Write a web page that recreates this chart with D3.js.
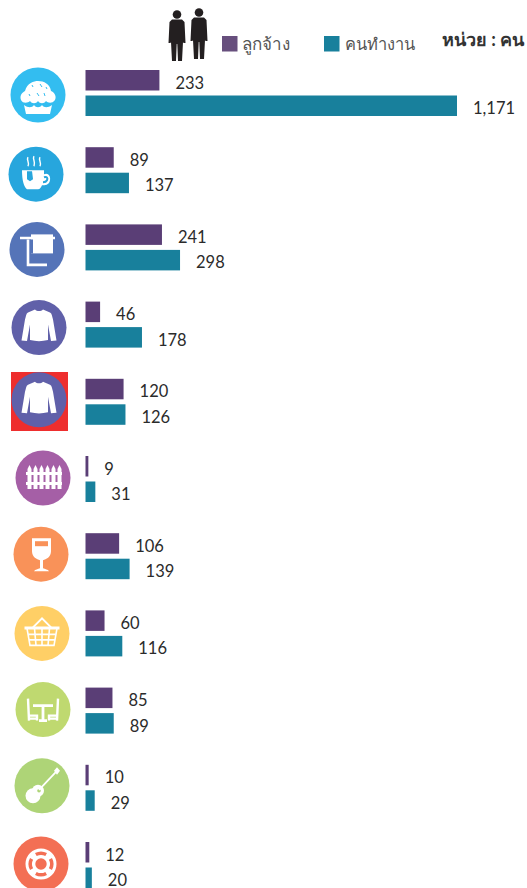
<!DOCTYPE html>
<html>
<head>
<meta charset="utf-8">
<script src="https://cdn.jsdelivr.net/npm/d3@7"></script>
<style>
html, body { margin: 0; padding: 0; background: #fff; overflow: hidden; }
#chart { width: 527px; height: 888px; }
text { font-family: Lato, "Noto Sans", "DejaVu Sans", sans-serif; }
</style>
</head>
<body>
<div id="chart"></div>
<script>
//Datos
const categories = ['pie','cup','towel','shirt','shirt','fence','wine','basket','table','guitar','buoy'];
const employees = [233, 89, 241, 46, 120, 9, 106, 60, 85, 10, 12];
const workers = [1171, 137, 298, 178, 126, 31, 139, 116, 89, 29, 20];
const legendLabels = ['ลูกจ้าง', 'คนทำงาน'];
const unitLabel = 'หน่วย : คน';

//Colores fijos
const COLOR_EMPLOYEE = '#5a3e76',
COLOR_WORKER = '#18809c',
COLOR_EMPLOYEE_KEY = '#674f7d',
COLOR_LABEL = '#2b2b2b';

const iconColors = ['#33bdf0','#27a6dd','#5574b8','#6060a9','#6060a9','#a55fa6','#f99259','#ffcf66','#bfd970','#aed477','#f36f54'];
const iconX = [38,36,37,39,39,43,41,42,43,42,41];
const iconDy = [25,27,25,26,21,22,21,23,22,21,22];

const width = 527, height = 888;
const BAR_H = 20.5, BAR_GAP = 25.5, ICON_R = 27.5;

let svg = d3.select('#chart').append('svg')
    .attr('width', width)
    .attr('height', height);

let x = d3.scaleLinear().domain([0, 1171]).range([85.5, 457]);
let y = d3.scaleLinear().domain([0, 10]).range([70, 842]);

//Iconos (trazados locales alrededor del centro)
function drawIcon(g, kind, bg) {
    let fill = p => g.append('path').attr('d', p).attr('fill', '#fff');
    let line = (p, w) => g.append('path').attr('d', p).attr('fill', 'none').attr('stroke', '#fff').attr('stroke-width', w);
    let cut = (p, w) => g.append('path').attr('d', p).attr('fill', 'none').attr('stroke', bg).attr('stroke-width', w);

    if (kind == 'pie') {
        fill('M-17,5C-19,0-15,-3-13,-4C-11,-12-4,-14 0,-14C6,-14 12,-11 13,-4C16,-3 19,1 17,5C14,9 10,8 8,6C6,9 2,9 0,6C-2,9-6,9-8,6C-10,8-15,9-17,5Z');
        fill('M-14,10C-10,13-6,13-4,10C-2,13 2,13 4,10C6,13 10,13 14,10L12,19L-12,19Z');
        cut('M-6,-10L-5,-8M2,-11L4,-8M8,-8L9,-6M-9,-1L-8,1M-1,-2L1,1M6,-2L7,1', 1);
    } else if (kind == 'cup') {
        fill('M-14,-4L8,-4L8,0C12,-2 15,2 14,6C13,11 9,11 6,11C5,13 4,15 2,15L-9,15C-12,13-14,6-14,-4Z');
        cut('M8,3C11,2 12,4 11,6C10,8 9,8 7,8', 2);
        g.append('path').attr('d', 'M-9,-3L-4,-3L-3,5L-6,7L-9,5Z').attr('fill', bg);
        line('M-8,-17C-10,-14-6,-12-8,-8M-2,-18C-4,-15 0,-13-2,-8M4,-17C2,-14 6,-12 4,-8', 1.4);
    } else if (kind == 'towel') {
        fill('M-6,-15L16,-15L16,4L-6,4Z');
        line('M-17,-11.5L18,-11.5', 2.5);
        g.append('path').attr('d', 'M-6,-10L-4,-10L-4,4L-6,4Z').attr('fill', bg);
        line('M-9,-10L-9,15.5L10,15.5', 2.6);
    } else if (kind == 'shirt') {
        fill('M-4,-18C-2,-16 2,-16 4,-18L11,-15C13,-14 13,-11 14,-8L17.5,13L12,13.5L9,-3L9,12.5C3,14-3,14-9,12.5L-9,-3L-12,13.5L-17.5,13L-14,-8C-13,-11-13,-14-11,-15Z');
    } else if (kind == 'fence') {
        d3.range(6).forEach(i => {
            let px = -15.5 + i * 6;
            fill(`M${px},-9L${px + 2},-13L${px + 4},-9L${px + 4},11L${px},11Z`);
        });
        fill('M-17,-6H19V-3H-17ZM-17,4H19V7H-17Z');
    } else if (kind == 'wine') {
        fill('M-9,-16H10V-3C10,3 5,5 2,6V14C4,15 7,15 8,17H-7C-6,15-3,15-1,14V6C-4,5-9,3-9,-3Z');
        g.append('path').attr('d', 'M-6,-13H7V-8H-6Z').attr('fill', bg);
    } else if (kind == 'basket') {
        line('M-9,-6L0,-15L9,-6', 2);
        fill('M-17.5,-7H17.5V-4H-17.5Z');
        line('M-15,-5L-12,12H12L15,-5M-14,1H14M-13,6.5H13M-7.5,-5L-6,12M0,-5V12M7.5,-5L6,12', 1.6);
    } else if (kind == 'table') {
        line('M-15,-11L-14,11M-14,6H-6V11M-14,9H-6', 2.4);
        line('M15,-11L14,11M14,6H6V11M14,9H6', 2.4);
        line('M-10,-4H10M0,-4V11M-4,11H4', 2.8);
    } else if (kind == 'guitar') {
        g.append('circle').attr('cx', -4).attr('cy', 5).attr('r', 6).attr('fill', '#fff');
        g.append('circle').attr('cx', -9).attr('cy', 10).attr('r', 7.5).attr('fill', '#fff');
        g.append('circle').attr('cx', -3).attr('cy', 5).attr('r', 1.8).attr('fill', bg);
        line('M-3,4L14,-14', 1.8);
        fill('M12,-15L15,-18.5L18,-15L15,-11Z');
    } else if (kind == 'buoy') {
        g.append('circle').attr('r', 10.6).attr('fill', 'none').attr('stroke', '#fff').attr('stroke-width', 9.8);
        let arc = d3.arc().innerRadius(9).outerRadius(12.5);
        d3.range(4).forEach(i => {
            let a = i * Math.PI / 2;
            g.append('path')
                .attr('d', arc({startAngle: a - 0.5, endAngle: a + 0.5}))
                .attr('fill', bg);
        });
    }
}

//Silueta de las personas en la cabecera
function drawPerson(g) {
    g.append('circle').attr('cx', 0).attr('cy', 4.5).attr('r', 4.3).attr('fill', '#231f20');
    g.append('path')
        .attr('d', 'M-5,9.5H5L7.5,12L8.5,33H6.5L6,32L5,51H1L0.3,34H-0.3L-1,51H-5L-6,32L-6.5,33H-8.5L-7.5,12Z')
        .attr('fill', '#231f20');
}

drawPerson(svg.append('g').attr('transform', 'translate(177,10)'));
drawPerson(svg.append('g').attr('transform', 'translate(199,8)'));

//Leyenda
svg.append('rect').attr('x', 222).attr('y', 36).attr('width', 15.5).attr('height', 15.5).attr('fill', COLOR_EMPLOYEE_KEY);
svg.append('rect').attr('x', 324).attr('y', 36).attr('width', 15.5).attr('height', 15.5).attr('fill', COLOR_WORKER);

svg.append('text').attr('x', 242).attr('y', 50).attr('font-size', 17).attr('fill', '#555').text(legendLabels[0]);
svg.append('text').attr('x', 345).attr('y', 50).attr('font-size', 16.4).attr('fill', '#555').text(legendLabels[1]);
svg.append('text').attr('x', 442).attr('y', 46).attr('font-size', 18).attr('font-weight', 700).attr('fill', '#333').text(unitLabel);

//Recuadro rojo detrás del quinto icono
svg.append('rect')
    .attr('x', 11).attr('y', 372).attr('width', 57).attr('height', 59)
    .attr('fill', '#ee2e2e');

//Iconos
categories.forEach((kind, i) => {
    let g = svg.append('g')
        .attr('transform', `translate(${iconX[i]},${y(i) + iconDy[i]})`);
    g.append('circle').attr('r', ICON_R).attr('fill', iconColors[i]);
    drawIcon(g, kind, iconColors[i]);
});

//Barras
function drawSeries(values, offset, color, cls) {
    svg.append('g').selectAll('rect')
        .data(values)
        .enter()
        .append('rect')
        .attr('class', cls)
        .attr('x', x(0))
        .attr('y', (d, i) => y(i) + offset)
        .attr('width', d => x(d) - x(0))
        .attr('height', BAR_H)
        .attr('fill', color);

    svg.append('g').selectAll('text')
        .data(values)
        .enter()
        .append('text')
        .attr('x', d => x(d) + 16)
        .attr('y', (d, i) => y(i) + offset + 18.5)
        .attr('font-size', 16.5)
        .attr('fill', COLOR_LABEL)
        .text(d => d3.format(',')(d));
}

drawSeries(employees, 0, COLOR_EMPLOYEE, 'employee');
drawSeries(workers, BAR_GAP, COLOR_WORKER, 'worker');
</script>
</body>
</html>
